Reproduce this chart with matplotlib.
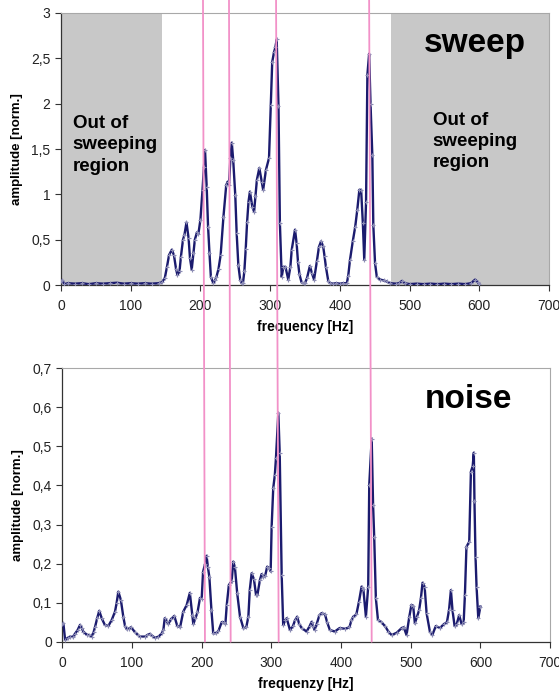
'''
* plot.py
* sweep vs. noise amplitude spectra, two stacked panels
* pink lines mark the common resonance frequencies
'''

#- Import libraries
import matplotlib
matplotlib.use('Agg')
import matplotlib.pyplot as plt
import matplotlib.transforms as mtrans
from matplotlib.patches import ConnectionPatch
from matplotlib.ticker import MultipleLocator, FuncFormatter

plt.rcParams['font.family'] = ['Liberation Sans', 'DejaVu Sans']

#- Sweep spectrum
sweep_f = [0, 2, 5, 10, 20, 30, 40, 50, 60, 70, 80, 90, 100, 110, 120, 130, 140, 145,
           149, 152, 155, 159, 162, 165, 167, 170, 172, 175, 177, 180, 183, 185, 187.5,
           190, 192, 195, 197, 200, 203, 205, 206.6, 209, 211, 213, 215, 218.5, 221, 223,
           226, 229, 233, 237, 239, 241, 243, 245, 247, 250, 252, 254.4, 257, 259, 261,
           263, 265, 267, 269, 271, 274.5, 277, 279, 281, 284.5, 288, 290, 294, 298.4,
           301, 303, 305.6, 307.5, 309.4, 312, 314, 316.6, 319, 322, 326, 329, 331,
           335.7, 338, 340, 342, 345, 348, 350, 353, 357, 360, 363, 367, 370, 373, 376,
           378, 380, 383.5, 386, 390, 395, 400, 405, 410, 412, 414.6, 418.5, 422, 425,
           428, 430.5, 433, 435, 437.6, 439.5, 442, 444, 446.6, 448, 450.5, 453, 458,
           463, 467, 472, 480, 485, 489, 493, 500, 510, 520, 530, 540, 550, 560, 570,
           580, 588, 594, 598, 600]
sweep_a = [0.04, 0.05, 0.01, 0.02, 0.015, 0.02, 0.01, 0.02, 0.015, 0.02, 0.025, 0.015,
           0.02, 0.015, 0.02, 0.015, 0.02, 0.03,
           0.08, 0.2, 0.33, 0.39, 0.33, 0.18, 0.11, 0.15, 0.31, 0.5, 0.55, 0.69, 0.52, 0.3,
           0.17, 0.35, 0.5, 0.58, 0.56, 0.72, 1.05, 1.3, 1.49, 1.08, 0.64, 0.35, 0.09, 0.02,
           0.05, 0.09, 0.18, 0.33, 0.75, 1.1, 1.14, 1.1, 1.4, 1.57, 1.38, 0.99, 0.57, 0.22,
           0.06, 0.02, 0.02, 0.15, 0.4, 0.7, 0.92, 1.03, 0.86, 0.81, 0.98, 1.16, 1.29, 1.14,
           1.05, 1.27, 1.4, 1.98, 2.46, 2.57, 2.62, 2.71, 1.97, 0.68, 0.09, 0.2, 0.2, 0.06,
           0.2, 0.39, 0.61, 0.46, 0.25, 0.12, 0.03, 0.02, 0.02, 0.08, 0.21, 0.13, 0.06, 0.26,
           0.42, 0.48, 0.43, 0.32, 0.2, 0.04, 0.02, 0.015, 0.02, 0.015, 0.02, 0.02, 0.1,
           0.28, 0.48, 0.64, 0.83, 1.05, 1.05, 0.68, 0.28, 0.92, 2.32, 2.55, 2.0, 1.43, 0.66,
           0.24, 0.09, 0.06, 0.05, 0.04, 0.02, 0.015, 0.02, 0.045, 0.02, 0.01, 0.015, 0.01,
           0.015, 0.01, 0.015, 0.01, 0.015, 0.01, 0.02, 0.06, 0.03, 0.01]

#- Noise spectrum
noise_f = [0, 1.5, 4, 8, 11, 15, 18, 22, 25.4, 28, 30, 35, 38, 42, 45, 47, 50, 53, 56.5,
           61, 66, 71, 75.6, 78, 80.4, 84, 87.5, 90, 92.4, 95, 98.6, 104, 108, 111.5,
           118.7, 122, 125.8, 129, 133, 138, 142.6, 145, 147, 150, 152, 156, 160.7, 165,
           169, 173.6, 178.5, 183, 186.5, 188, 191, 194, 197.6, 200, 202, 205, 207, 209,
           211, 214, 216.6, 220, 224, 228.7, 232, 234, 236, 239, 241, 243, 245.4, 247.7,
           251, 255, 260, 264, 267, 269, 271.7, 275, 278, 280, 283.6, 286, 288, 291, 294,
           297, 299, 300.4, 302.7, 305, 306.6, 310, 312, 314.8, 317, 320, 322, 326.7, 331,
           334, 337, 340, 343.5, 350.6, 355, 357.8, 360, 362, 365, 369, 372, 377, 380, 384,
           391, 398, 405.6, 412, 415, 417.5, 422, 425.7, 429.5, 432, 435.7, 439, 440.5, 444,
           446, 447.6, 450, 453, 458, 463, 468, 472.6, 480, 487, 490, 494, 498, 501, 503.5,
           506, 509, 512, 514.6, 517, 520, 522.8, 527.5, 531, 536, 542, 547.6, 552, 555,
           557.7, 560, 563, 566, 569.6, 573, 576, 577.8, 580, 584, 586.4, 589, 590.6, 591.5,
           593, 594.5, 597, 600]
noise_a = [0.045, 0.047, 0.005, 0.01, 0.013, 0.012, 0.02, 0.03, 0.043, 0.035, 0.026, 0.018,
           0.017, 0.013, 0.025, 0.038, 0.06, 0.079, 0.06, 0.043, 0.04, 0.056, 0.077, 0.1,
           0.128, 0.107, 0.064, 0.04, 0.032, 0.033, 0.037, 0.025, 0.018, 0.013, 0.013, 0.017,
           0.02, 0.015, 0.01, 0.013, 0.021, 0.03, 0.06, 0.052, 0.045, 0.058, 0.066, 0.04,
           0.037, 0.077, 0.094, 0.125, 0.068, 0.045, 0.06, 0.075, 0.112, 0.11, 0.179, 0.2,
           0.22, 0.19, 0.166, 0.081, 0.021, 0.022, 0.027, 0.05, 0.05, 0.045, 0.094, 0.145,
           0.15, 0.155, 0.205, 0.19, 0.124, 0.064, 0.034, 0.037, 0.064, 0.132, 0.175, 0.16,
           0.12, 0.12, 0.158, 0.173, 0.165, 0.168, 0.192, 0.188, 0.18, 0.294, 0.393, 0.427,
           0.47, 0.586, 0.482, 0.171, 0.043, 0.055, 0.06, 0.03, 0.04, 0.055, 0.064, 0.045,
           0.035, 0.026, 0.04, 0.051, 0.04, 0.03, 0.045, 0.068, 0.073, 0.07, 0.05, 0.03,
           0.026, 0.035, 0.033, 0.037, 0.055, 0.064, 0.07, 0.102, 0.141, 0.135, 0.064, 0.141,
           0.401, 0.52, 0.35, 0.269, 0.111, 0.056, 0.05, 0.04, 0.026, 0.017, 0.023, 0.035,
           0.037, 0.017, 0.064, 0.094, 0.092, 0.047, 0.064, 0.08, 0.111, 0.151, 0.14, 0.073,
           0.026, 0.017, 0.04, 0.035, 0.045, 0.05, 0.081, 0.132, 0.08, 0.04, 0.045, 0.068,
           0.045, 0.05, 0.12, 0.243, 0.256, 0.435, 0.45, 0.484, 0.36, 0.218, 0.141, 0.06, 0.09]

#- shaded "out of sweeping region" spans [Hz]
out_spans = [(0, 145), (473, 700)]

#- pink marker lines: frequency at figure top and at bottom panel baseline
pink_top = [203.7, 241.0, 308.5, 442.0]
pink_bot = [204.7, 241.6, 310.5, 444.0]

line_col = '#1b1b6e'
mark_col = '#8c8cb4'

def comma_fmt(v, pos):
    s = ('%g' % round(v, 2))
    return s.replace('.', ',')

def style_axis(ax, ymax, ystep):
    ax.set_xlim(0, 700)
    ax.set_ylim(0, ymax)
    ax.xaxis.set_major_locator(MultipleLocator(100))
    ax.yaxis.set_major_locator(MultipleLocator(ystep))
    ax.yaxis.set_major_formatter(FuncFormatter(comma_fmt))
    ax.tick_params(axis='both', direction='out', length=4, width=0.8,
                   labelsize=10, colors='#333333', labelcolor='#222222')
    ax.tick_params(axis='x', pad=6)
    for s in ['top', 'right']:
        ax.spines[s].set_color('#a8a8a8')
        ax.spines[s].set_linewidth(0.8)
    for s in ['left', 'bottom']:
        ax.spines[s].set_color('#333333')
        ax.spines[s].set_linewidth(0.9)

fig = plt.figure(figsize=(5.59, 6.95), dpi=100)

#- Top panel: sweep
ax1 = fig.add_axes([0.1091, 0.5899, 0.8730, 0.3914])
for a, b in out_spans:
    ax1.axvspan(a, b, color='#c8c8c8', lw=0, zorder=0)
ax1.plot(sweep_f, sweep_a, color=line_col, lw=1.7, marker='+', ms=3.5,
         mec=mark_col, mew=0.8, zorder=3)
style_axis(ax1, 3, 0.5)
ax1.set_xlabel('frequency [Hz]', fontsize=10, fontweight='bold', labelpad=5)
ax1.set_ylabel('amplitude [norm.]', fontsize=9.5, fontweight='bold', labelpad=6)
ax1.text(0.848, 0.888, 'sweep', transform=ax1.transAxes, fontsize=24,
         fontweight='bold', ha='center', va='center')
ax1.text(0.024, 0.625, 'Out of\nsweeping\nregion', transform=ax1.transAxes,
         fontsize=13.5, fontweight='bold', ha='left', va='top', linespacing=1.33)
ax1.text(0.762, 0.637, 'Out of\nsweeping\nregion', transform=ax1.transAxes,
         fontsize=13.5, fontweight='bold', ha='left', va='top', linespacing=1.33)

#- Bottom panel: noise
ax2 = fig.add_axes([0.1115, 0.0767, 0.8725, 0.3934])
ax2.plot(noise_f, noise_a, color=line_col, lw=1.7, marker='+', ms=3.5,
         mec=mark_col, mew=0.8, zorder=3)
style_axis(ax2, 0.7, 0.1)
ax2.set_xlabel('frequenzy [Hz]', fontsize=10, fontweight='bold', labelpad=5)
ax2.set_ylabel('amplitude [norm.]', fontsize=9.5, fontweight='bold', labelpad=6)
ax2.text(0.832, 0.885, 'noise', transform=ax2.transAxes, fontsize=24,
         fontweight='bold', ha='center', va='center')

#- Pink lines running from the figure top down through both panels
top_tr = mtrans.blended_transform_factory(ax1.transData, fig.transFigure)
for ft, fb in zip(pink_top, pink_bot):
    con = ConnectionPatch(xyA=(ft, 1.0), coordsA=top_tr,
                          xyB=(fb, 0.0), coordsB=ax2.transData,
                          color='#f291c8', lw=1.3, zorder=5)
    fig.add_artist(con)

fig.savefig('out.png', dpi=100)
